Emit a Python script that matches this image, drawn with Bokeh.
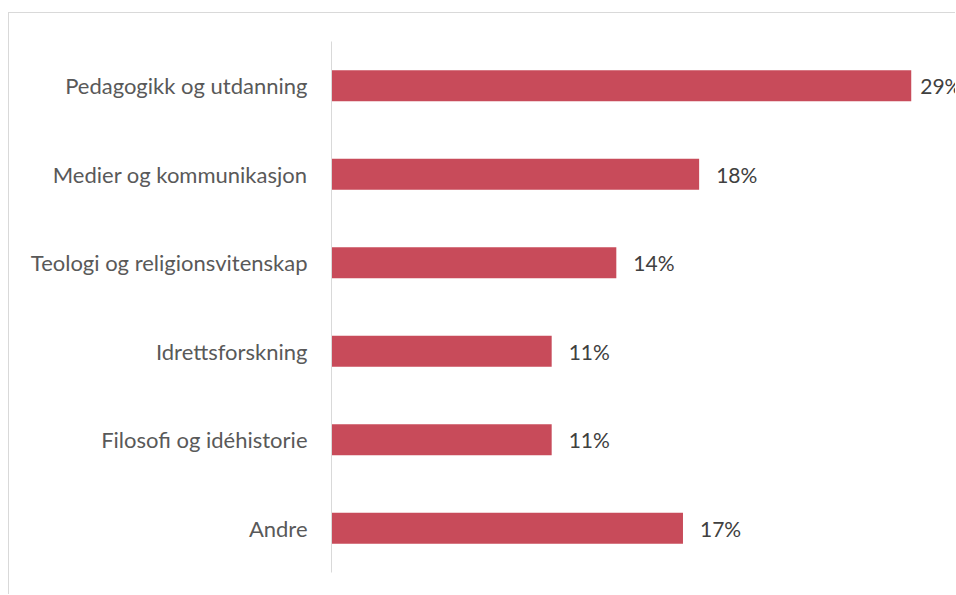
from bokeh.plotting import figure
from bokeh.models import FactorRange, Range1d, ColumnDataSource
from bokeh.core.properties import value
from bokeh.embed import file_html
from bokeh.resources import INLINE

categories = ["Pedagogikk og utdanning", "Medier og kommunikasjon",
              "Teologi og religionsvitenskap", "Idrettsforskning",
              "Filosofi og idéhistorie", "Andre"]
shares = [28.7, 18.2, 14.1, 10.9, 10.9, 17.4]
value_labels = [f"{round(v)}%" for v in shares]

BAR_COLOR = "#C84B5A"
FONT = "Lato"

# labels sit 17px right of the bar end; the one on the longest bar is
# pulled closer (as in the original) since it runs against the edge
label_src = ColumnDataSource(dict(
    x=shares, y=categories, text=value_labels,
    off=[9 if v == max(shares) else 17 for v in shares]))

p = figure(width=947, height=582,
           y_range=FactorRange(*categories[::-1]),
           x_range=Range1d(0, 625 / 20.2),
           output_backend="svg", toolbar_location=None,
           min_border_left=322, min_border_right=0,
           min_border_top=28, min_border_bottom=23)
p.styles = {"margin-top": "12px", "margin-left": "8px",
            "border-top": "1px solid #d9d9d9",
            "border-left": "1px solid #d9d9d9"}

p.hbar(y=categories, right=shares, left=0, height=0.35,
       color=BAR_COLOR, line_color=None)
p.text(x="x", y="y", text="text", x_offset="off", source=label_src,
       text_baseline="middle", text_align="left",
       text_font=value(FONT), text_font_size="21px", text_color="#404040")

p.xaxis.visible = False
p.xgrid.visible = False
p.ygrid.visible = False
p.outline_line_color = None
p.background_fill_color = "white"
p.border_fill_color = "white"

ya = p.yaxis[0]
ya.axis_line_color = "#d9d9d9"
ya.axis_line_width = 1
ya.major_tick_line_color = None
ya.minor_tick_line_color = None
ya.major_tick_out = 0
ya.major_tick_in = 0
ya.major_label_standoff = 24
ya.major_label_text_font = FONT
ya.major_label_text_font_size = "22px"
ya.major_label_text_color = "#595959"

open("out.html", "w").write(file_html(p, INLINE))
